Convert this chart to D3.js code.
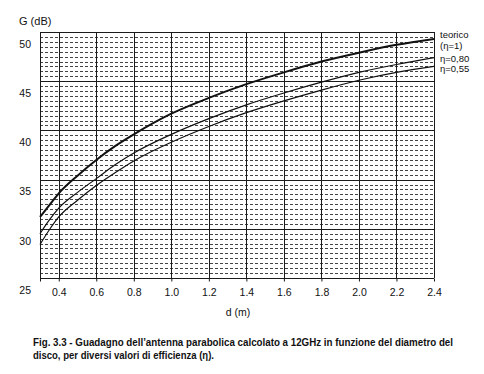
<!DOCTYPE html>
<html>
<head>
<meta charset="utf-8">
<script src="https://cdn.jsdelivr.net/npm/d3@7/dist/d3.min.js"></script>
<style>
  body { margin: 0; background: #fff; }
  svg { display: block; font-family: "Liberation Sans", Arial, sans-serif; }
</style>
</head>
<body>
<svg id="chart" width="484" height="374"></svg>
<script>
// diameter of the dish (m)
const diam = [0.3, 0.35, 0.4, 0.5, 0.6, 0.7, 0.8, 1.0, 1.2, 1.4, 1.6, 1.8, 2.0, 2.2, 2.4];
// gain (dB)
const gTeorico = [31.2, 32.4, 33.6, 35.4, 37.0, 38.4, 39.6, 41.7, 43.3, 44.7, 45.9, 47.0, 47.9, 48.7, 49.3];
const g080     = [29.5, 30.9, 32.1, 33.7, 35.1, 36.5, 37.7, 39.6, 41.2, 42.6, 43.8, 44.9, 45.9, 46.7, 47.4];
const g055     = [28.4, 29.9, 31.2, 32.9, 34.4, 35.7, 36.9, 38.8, 40.4, 41.8, 43.0, 44.1, 45.1, 45.9, 46.5];

const xTicks = [0.4, 0.6, 0.8, 1.0, 1.2, 1.4, 1.6, 1.8, 2.0, 2.2, 2.4];
const yTicks = [25, 30, 35, 40, 45, 50];
const yMinor = d3.range(25.5, 50, 0.5).filter(v => v % 5 !== 0);

const series = [
    { name: 'teorico', values: gTeorico, width: 2 },
    { name: '0.80', values: g080, width: 1.2 },
    { name: '0.55', values: g055, width: 1.2 }
];

const svg = d3.select('#chart');
const pLeft = 40, pRight = 434, pTop = 32, pBottom = 278;

const x = d3.scaleLinear().domain([0.3, 2.4]).range([pLeft, pRight]);
const y = d3.scaleLinear().domain([25, 50]).range([pBottom, pTop]);

// dotted minor grid
svg.append('g')
    .selectAll('line')
    .data(yMinor)
    .join('line')
    .attr('x1', pLeft).attr('x2', pRight)
    .attr('y1', d => Math.round(y(d)) + 0.5)
    .attr('y2', d => Math.round(y(d)) + 0.5)
    .attr('stroke', '#444')
    .attr('stroke-width', 1)
    .attr('stroke-dasharray', '3,2');

// major grid
svg.append('g')
    .selectAll('line')
    .data(yTicks)
    .join('line')
    .attr('x1', pLeft).attr('x2', pRight)
    .attr('y1', d => Math.round(y(d)) + 0.5)
    .attr('y2', d => Math.round(y(d)) + 0.5)
    .attr('stroke', '#1a1a1a');

svg.append('g')
    .selectAll('line')
    .data([0.3].concat(xTicks))
    .join('line')
    .attr('x1', d => Math.round(x(d)) + 0.5)
    .attr('x2', d => Math.round(x(d)) + 0.5)
    .attr('y1', pTop).attr('y2', pBottom)
    .attr('stroke', '#1a1a1a');

// x axis
const xAxis = svg.append('g')
    .attr('transform', `translate(0,${pBottom + 0.5})`)
    .call(d3.axisBottom(x).tickValues([0.3].concat(xTicks)).tickSize(3).tickFormat(d => d === 0.3 ? '' : d3.format('.1f')(d)));
xAxis.select('.domain').remove();
xAxis.selectAll('line').attr('stroke', '#1a1a1a');
xAxis.selectAll('text')
    .attr('y', 10)
    .attr('font-size', 10.5)
    .attr('font-family', '"Liberation Sans", Arial, sans-serif')
    .attr('fill', '#111');

// y axis (labels sit a little below their grid lines, as in the print)
const yAxis = svg.append('g')
    .attr('transform', `translate(${pLeft},0)`)
    .call(d3.axisLeft(y).tickValues(yTicks).tickSize(0).tickPadding(9));
yAxis.select('.domain').remove();
yAxis.selectAll('text')
    .attr('dy', '1.45em')
    .attr('font-size', 10.5)
    .attr('font-family', '"Liberation Sans", Arial, sans-serif')
    .attr('fill', '#111');

// curves
const line = d3.line()
    .x((d, i) => x(diam[i]))
    .y(d => y(d))
    .curve(d3.curveMonotoneX);

svg.append('g')
    .selectAll('path')
    .data(series)
    .join('path')
    .attr('d', d => line(d.values))
    .attr('fill', 'none')
    .attr('stroke', '#111')
    .attr('stroke-width', d => d.width);

// labels
const txt = (tx, ty, s, opts = {}) => svg.append('text')
    .attr('x', tx).attr('y', ty)
    .attr('font-size', opts.size || 10)
    .attr('font-weight', opts.weight || 'normal')
    .attr('text-anchor', opts.anchor || 'start')
    .attr('fill', '#111')
    .text(s);

txt(19, 25, 'G (dB)', { size: 11 });
txt(440, 38, 'teorico', { size: 9.5 });
txt(440, 49, '(η=1)', { size: 9.5 });
txt(440, 62, 'η=0,80', { size: 9.5 });
txt(440, 72, 'η=0,55', { size: 9.5 });
txt(238, 316, 'd (m)', { size: 10.5, anchor: 'middle' });

txt(33, 346, 'Fig. 3.3 - Guadagno dell\u2019antenna parabolica calcolato a 12GHz in funzione del diametro del', { size: 10, weight: 'bold' })
    .attr('textLength', 420).attr('lengthAdjust', 'spacingAndGlyphs');
txt(33, 359, 'disco, per diversi valori di efficienza (η).', { size: 10, weight: 'bold' })
    .attr('textLength', 181).attr('lengthAdjust', 'spacingAndGlyphs');
</script>
</body>
</html>
